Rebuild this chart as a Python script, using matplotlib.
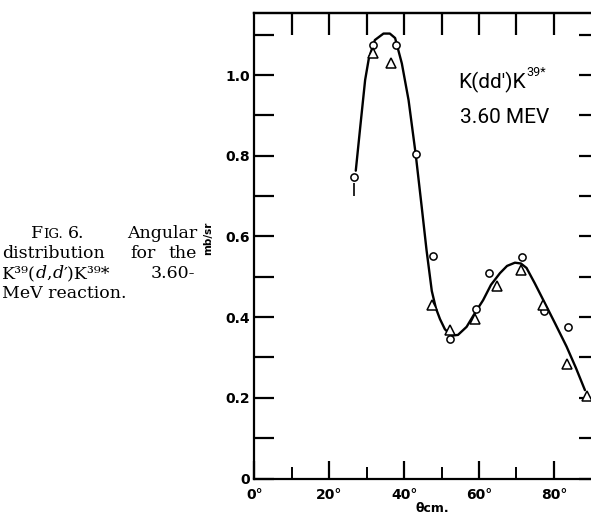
import matplotlib
matplotlib.use("Agg")
import matplotlib.pyplot as plt
import numpy as np
from matplotlib.ticker import MultipleLocator, FixedLocator, FuncFormatter, NullFormatter

W, H = 591, 515

# values
circle_theta = [26.6, 31.7, 37.8, 43.1, 47.6, 52.2, 59.1, 62.6, 71.4, 77.4, 83.8]
circle_xs = [0.747, 1.074, 1.074, 0.804, 0.552, 0.346, 0.419, 0.510, 0.548, 0.415, 0.376]
triangle_theta = [31.7, 36.5, 47.4, 52.2, 58.9, 64.9, 71.1, 77.2, 83.6, 88.9]
triangle_xs = [1.055, 1.030, 0.430, 0.368, 0.395, 0.478, 0.517, 0.430, 0.285, 0.205]

# hand-drawn fit curve
curve_theta = [27.1, 28.3, 29.6, 30.6, 32.2, 34.5, 36.2, 37.6, 39.4, 41.2, 43.1, 44.7,
               46.0, 47.4, 48.5, 49.6, 50.9, 52.7, 54.4, 56.7, 58.9, 61.1, 63.2, 65.6,
               67.5, 69.6, 71.2, 72.7, 74.9, 77.2, 80.3, 83.4, 85.9, 88.3]
curve_xs = [0.763, 0.872, 0.988, 1.042, 1.087, 1.103, 1.103, 1.092, 1.029, 0.938, 0.804, 0.674,
            0.566, 0.465, 0.422, 0.395, 0.370, 0.354, 0.356, 0.376, 0.410, 0.442, 0.480, 0.509,
            0.527, 0.535, 0.533, 0.522, 0.484, 0.442, 0.385, 0.327, 0.274, 0.219]

err_theta = [26.6]
err_lo = [0.700]
err_hi = [0.733]

x_major = [0, 20, 40, 60, 80]
x_minor = [10, 30, 50, 70]
top_ticks = [10, 20, 30, 40, 50, 60, 70, 80]


def px(x, y):
    return x / W, 1 - y / H


def chain(x, y, pieces):
    # draw text pieces one after another on a common baseline
    renderer = fig.canvas.get_renderer()
    cx = x
    for s, kw in pieces:
        t = fig.text(cx / W, 1 - y / H, s, va='baseline', **kw)
        cx = t.get_window_extent(renderer).x1


fig = plt.figure(figsize=(W / 100, H / 100), dpi=100)
ax = fig.add_axes([254.3 / W, 1 - 478.5 / H, 337 / W, 465.5 / H])
ax.set_xlim(0, 90)
ax.set_ylim(0, 1.154)

ax.plot(curve_theta, curve_xs, color='black', lw=1.7, solid_capstyle='round', zorder=2)
ax.vlines(err_theta, err_lo, err_hi, color='black', lw=1.2, zorder=2)
ax.plot(circle_theta, circle_xs, 'o', ms=5.2, mfc='white', mec='black', mew=1.1, zorder=3)
ax.plot(triangle_theta, triangle_xs, '^', ms=6.5, mfc='white', mec='black', mew=1.1, zorder=3)

for s in ax.spines.values():
    s.set_linewidth(1.6)
ax.spines['right'].set_visible(False)

# bottom axis
ax.xaxis.set_major_locator(FixedLocator(x_major))
ax.xaxis.set_minor_locator(FixedLocator(x_minor))
ax.xaxis.set_major_formatter(FuncFormatter(lambda v, p: f"{v:.0f}°"))
ax.tick_params(axis='x', which='major', direction='in', length=13, width=1.6, pad=7,
               top=False, labelsize=10)
ax.tick_params(axis='x', which='minor', direction='in', length=8.5, width=1.4, top=False)

# left axis
ax.yaxis.set_major_locator(MultipleLocator(0.2))
ax.yaxis.set_minor_locator(MultipleLocator(0.1))
ax.yaxis.set_major_formatter(FuncFormatter(lambda v, p: '0' if abs(v) < 1e-9 else f"{v:.1f}"))
ax.yaxis.set_minor_formatter(NullFormatter())
ax.tick_params(axis='y', which='both', direction='in', length=14.5, width=1.6, pad=3,
               right=False, labelsize=10)
for lab in ax.get_xticklabels() + ax.get_yticklabels():
    lab.set_fontweight('bold')

# top axis: every 10 degrees, same length
top = ax.secondary_xaxis('top')
top.xaxis.set_major_locator(FixedLocator(top_ticks))
top.tick_params(direction='in', length=16, width=1.6, labeltop=False)
top.spines['top'].set_linewidth(1.6)

# right axis: short ticks every 0.1
right = ax.secondary_yaxis('right')
right.yaxis.set_major_locator(MultipleLocator(0.1))
right.tick_params(direction='in', length=8.5, width=1.6, labelright=False)
right.spines['right'].set_visible(False)

ax.set_ylabel('mb/sr', fontsize=7.5, fontweight='bold')
ax.yaxis.set_label_coords((213 - 254.3) / 337, 0.517)
ax.set_xlabel('θcm.', fontsize=9, fontweight='bold')
ax.xaxis.set_label_coords((432 - 254.3) / 337, (478.5 - 502) / 465.5)

# caption
fs = 12.5
serif = ['DejaVu Serif', 'DejaVu Sans']
up = dict(family=serif, fontsize=fs, color='black')
it = dict(family=serif, fontsize=fs, style='italic', color='black')
sc = dict(family=serif, fontsize=9.5, color='black')
cap = dict(family=serif, fontsize=fs, va='baseline', color='black')

chain(31, 238, [('F', up), ('IG.', sc)])
fig.text(*px(68, 238), '6.', **cap)
fig.text(*px(197, 238), 'Angular', ha='right', **cap)
fig.text(*px(2, 258), 'distribution', **cap)
fig.text(*px(130, 258), 'for', **cap)
fig.text(*px(197, 258), 'the', ha='right', **cap)
chain(2, 278, [('K³⁹(', up), ('d', it), (',', up), ('d', it), ('′)K³⁹*', up)])
fig.text(*px(195, 278), '3.60-', ha='right', **cap)
fig.text(*px(2, 298), 'MeV reaction.', **cap)

# annotation inside the plot
ann = dict(family='Roboto', va='baseline', color='black')
t1 = fig.text(*px(458, 88), "K(dd')K", fontsize=15, **ann)
fig.canvas.draw()
bb = t1.get_window_extent()
fig.text(bb.x1 / W + 0.001, (H - 76) / H, '39*', fontsize=9, **ann)
fig.text(*px(460, 123), '3.60 MEV', fontsize=15, **ann)

fig.savefig('out.png', dpi=100)
